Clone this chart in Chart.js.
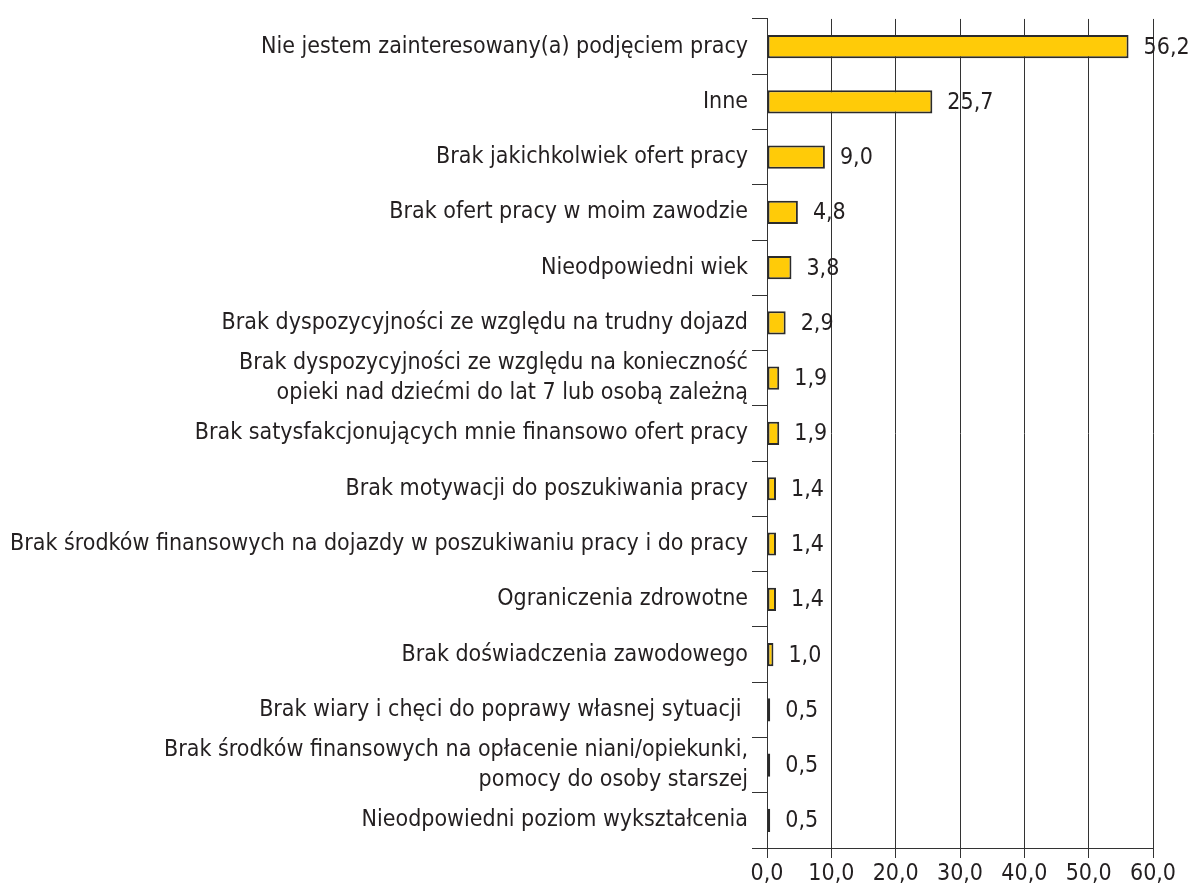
<!DOCTYPE html>
<html>
<head>
<meta charset="utf-8">
<script src="https://cdn.jsdelivr.net/npm/chart.js@4/dist/chart.umd.min.js"></script>
<style>
  html, body { margin: 0; padding: 0; background: #fff; }
  #wrap { width: 1192px; height: 888px; }
</style>
</head>
<body>
<div id="wrap"><canvas id="canvas" width="1192" height="888"></canvas></div>
<script>
const categories = [
  "Nie jestem zainteresowany(a) podjęciem pracy",
  "Inne",
  "Brak jakichkolwiek ofert pracy",
  "Brak ofert pracy w moim zawodzie",
  "Nieodpowiedni wiek",
  "Brak dyspozycyjności ze względu na trudny dojazd",
  ["Brak dyspozycyjności ze względu na konieczność", "opieki nad dziećmi do lat 7 lub osobą zależną"],
  "Brak satysfakcjonujących mnie finansowo ofert pracy",
  "Brak motywacji do poszukiwania pracy",
  "Brak środków finansowych na dojazdy w poszukiwaniu pracy i do pracy",
  "Ograniczenia zdrowotne",
  "Brak doświadczenia zawodowego",
  "Brak wiary i chęci do poprawy własnej sytuacji ",
  ["Brak środków finansowych na opłacenie niani/opiekunki,", "pomocy do osoby starszej"],
  "Nieodpowiedni poziom wykształcenia"
];
const values = [56.2, 25.7, 9.0, 4.8, 3.8, 2.9, 1.9, 1.9, 1.4, 1.4, 1.4, 1.0, 0.5, 0.5, 0.5];
const xMin = 0, xMax = 60, xStep = 10;

const FONT = "'Liberation Sans Narrow', 'DejaVu Sans Condensed', 'Arial Narrow', sans-serif";
const TEXT = "#231f20";
const SIZE = 23;
const fmt = (v) => v.toFixed(1).replace(".", ",");

const valueLabels = {
  id: "valueLabels",
  afterDatasetsDraw(chart) {
    const ctx = chart.ctx;
    const meta = chart.getDatasetMeta(0);
    ctx.save();
    ctx.font = SIZE + "px " + FONT;
    ctx.fillStyle = TEXT;
    ctx.textAlign = "left";
    ctx.textBaseline = "middle";
    meta.data.forEach((bar, i) => {
      ctx.fillText(fmt(values[i]), bar.x + 15, bar.y + 1);
    });
    ctx.restore();
  }
};

new Chart(document.getElementById("canvas").getContext("2d"), {
  type: "bar",
  data: {
    labels: categories,
    datasets: [{
      data: values,
      backgroundColor: "#ffcb08",
      borderColor: "#2b2b2b",
      borderWidth: 2,
      borderSkipped: false,
      barPercentage: 0.42,
      categoryPercentage: 1
    }]
  },
  options: {
    indexAxis: "y",
    responsive: false,
    animation: false,
    layout: { padding: { top: 17, right: 39, bottom: 0, left: 0 } },
    plugins: {
      legend: { display: false },
      tooltip: { enabled: false }
    },
    scales: {
      x: {
        min: xMin,
        max: xMax,
        afterFit: (s) => { s.height = 40; },
        ticks: {
          stepSize: xStep,
          color: TEXT,
          padding: 2,
          font: { family: FONT, size: SIZE },
          callback: (v) => fmt(v)
        },
        grid: { color: "#333", lineWidth: 1, tickLength: 10 },
        border: { color: "#333", width: 1 }
      },
      y: {
        afterFit: (s) => { s.width = 767; },
        ticks: {
          autoSkip: false,
          color: TEXT,
          padding: 4,
          font: { family: FONT, size: SIZE, lineHeight: 1.3 }
        },
        grid: {
          offset: true,
          drawOnChartArea: false,
          color: "#333",
          tickLength: 15
        },
        border: { color: "#333", width: 1 }
      }
    }
  },
  plugins: [valueLabels]
});
</script>
</body>
</html>
